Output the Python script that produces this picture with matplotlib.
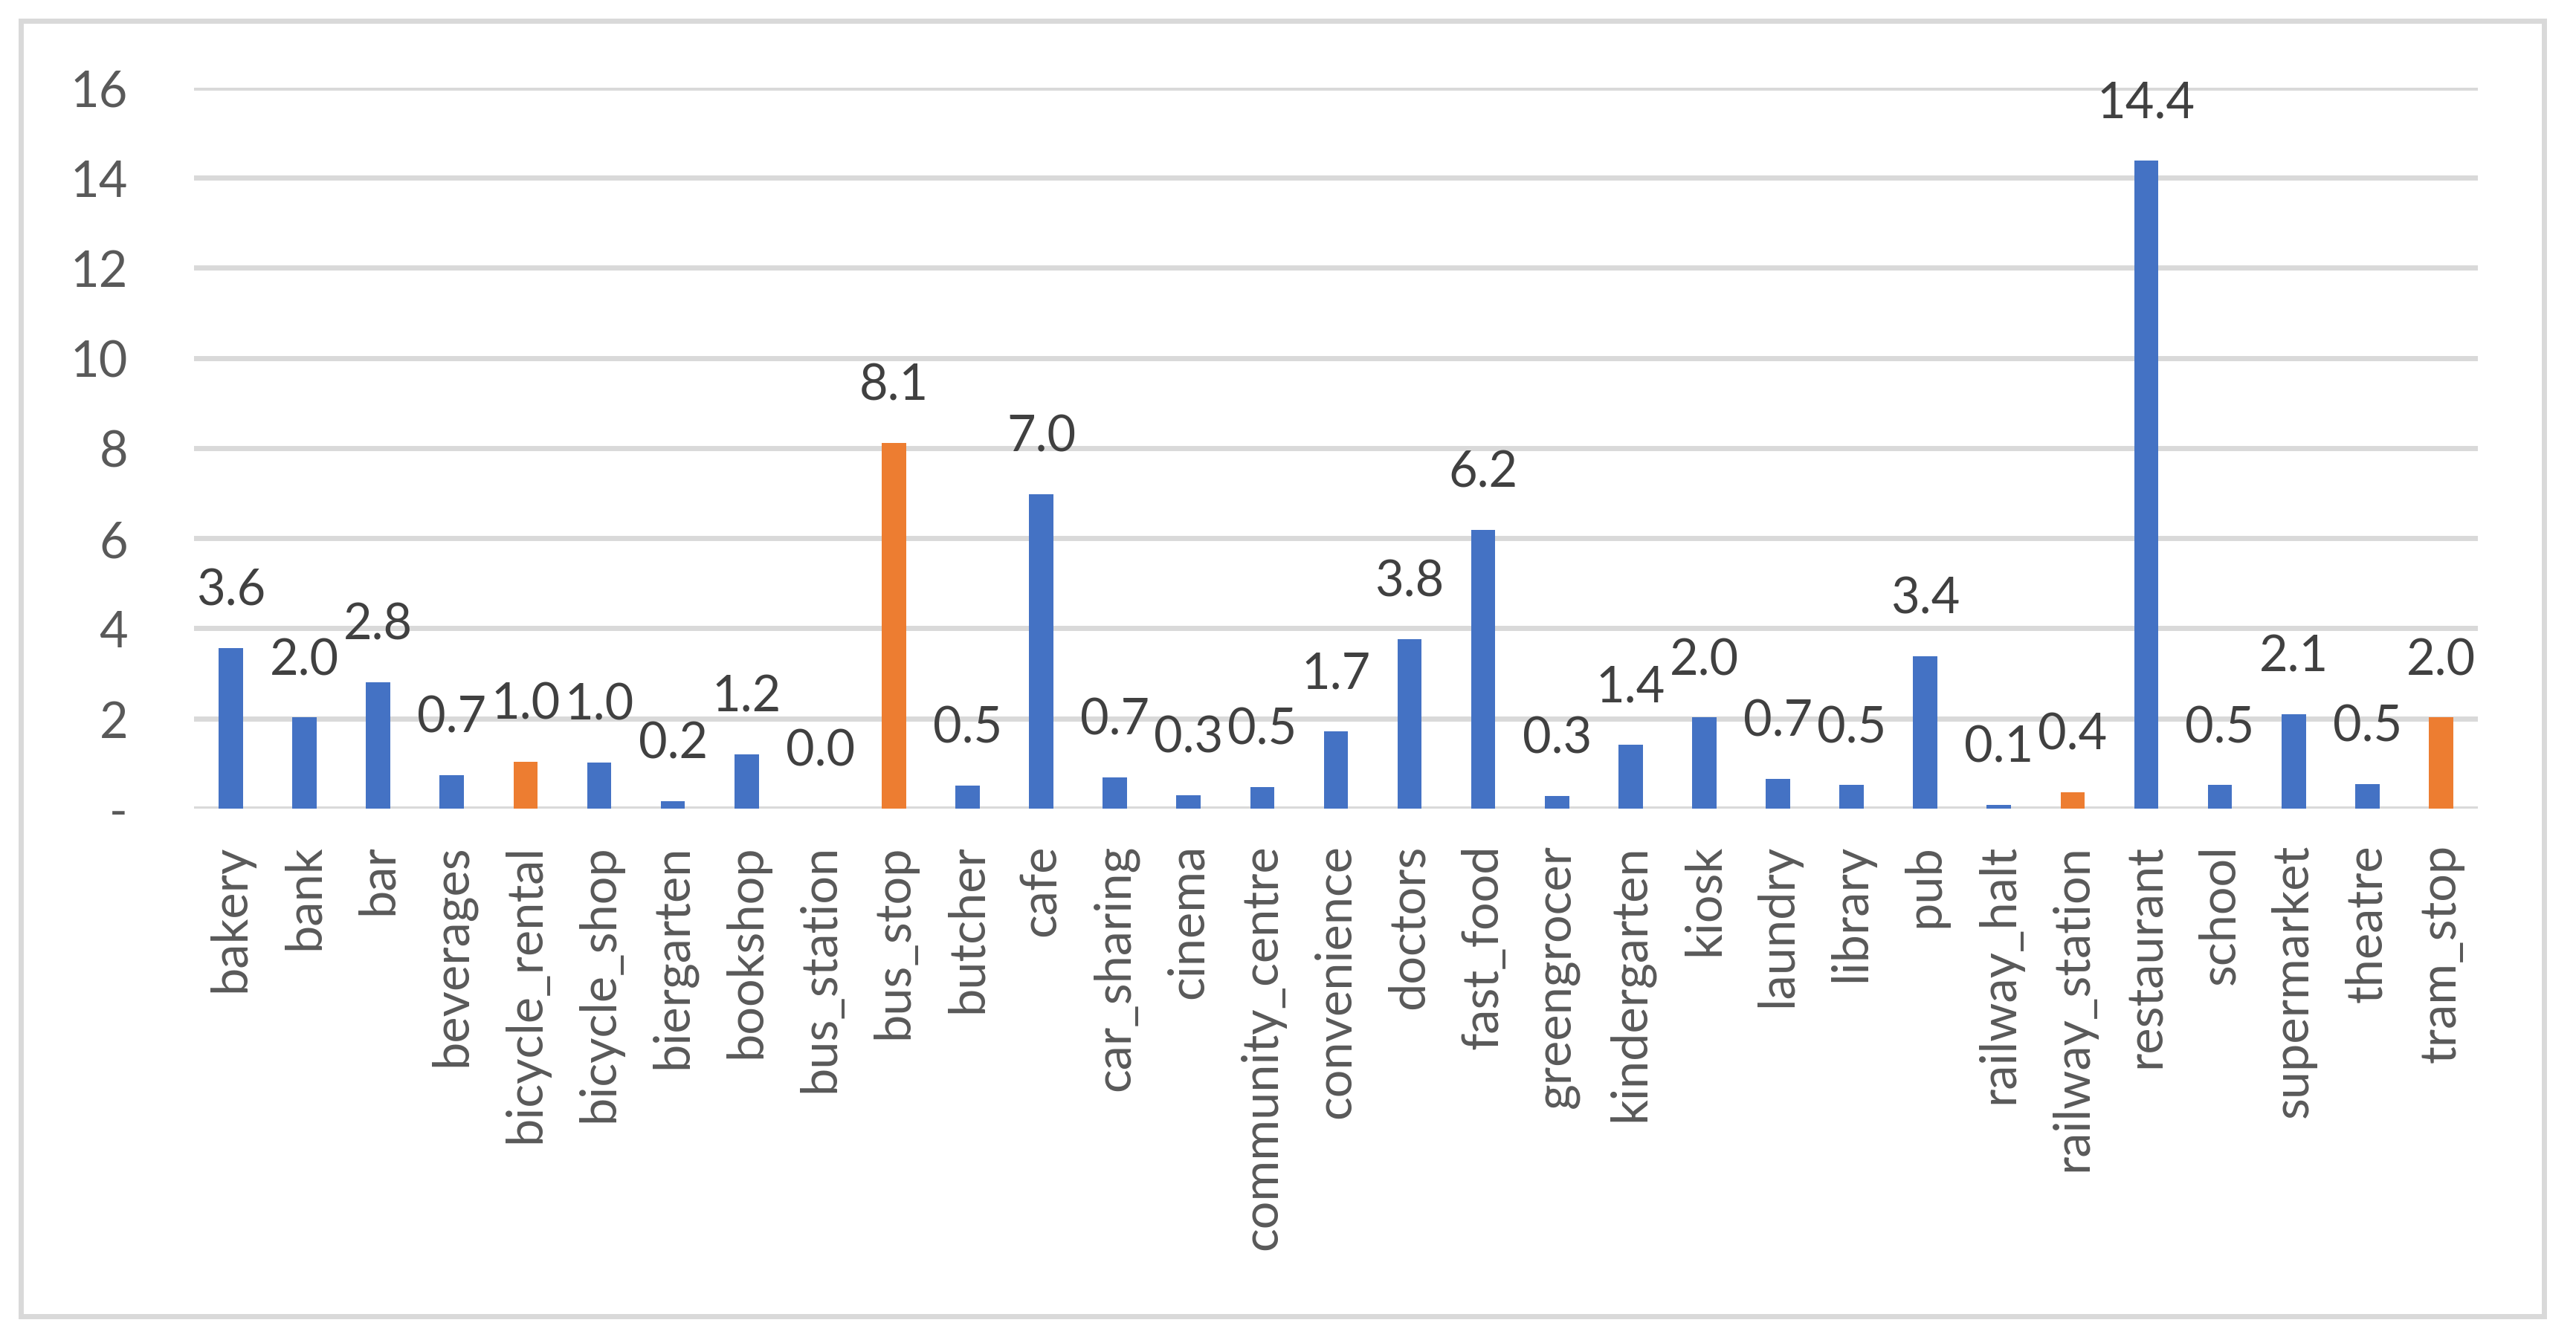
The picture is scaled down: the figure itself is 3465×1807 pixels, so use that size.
import numpy as np
import matplotlib
matplotlib.use("Agg")
import matplotlib.pyplot as plt
from matplotlib.patches import Rectangle

# DATA
categories = ["bakery", "bank", "bar", "beverages", "bicycle_rental", "bicycle_shop",
              "biergarten", "bookshop", "bus_station", "bus_stop", "butcher", "cafe",
              "car_sharing", "cinema", "community_centre", "convenience", "doctors",
              "fast_food", "greengrocer", "kindergarten", "kiosk", "laundry", "library",
              "pub", "railway_halt", "railway_station", "restaurant", "school",
              "supermarket", "theatre", "tram_stop"]
values = [3.56, 2.02, 2.81, 0.74, 1.04, 1.02, 0.16, 1.21, 0.0, 8.12, 0.51, 6.98,
          0.70, 0.30, 0.48, 1.72, 3.76, 6.18, 0.28, 1.42, 2.02, 0.66, 0.52, 3.38,
          0.08, 0.36, 14.38, 0.52, 2.10, 0.54, 2.02]
# transport related categories are highlighted
highlight = ["bicycle_rental", "bus_stop", "railway_station", "tram_stop"]
y_ticks = [0, 2, 4, 6, 8, 10, 12, 14, 16]
y_ticklabels = ["-", "2", "4", "6", "8", "10", "12", "14", "16"]

BLUE = "#4472C4"
ORANGE = "#ED7D31"
GRID = "#D9D9D9"

plt.rcParams["font.family"] = ["Lato", "DejaVu Sans"]

fig = plt.figure(figsize=(17.33, 9.04), dpi=200)
ax = fig.add_axes([0.0753, 0.3977, 0.9616 - 0.0753, 0.9342 - 0.3977])

x = np.arange(len(categories))
colors = [ORANGE if c in highlight else BLUE for c in categories]
ax.bar(x, values, width=0.33, color=colors, zorder=3)

# DATA LABELS
for xi, v in zip(x, values):
    ax.annotate(f"{v:.1f}", (xi, v), xytext=(0, 21), textcoords="offset points",
                ha="center", va="baseline", fontsize=24, color="#404040")

ax.set_xlim(-0.5, len(categories) - 0.5)
ax.set_ylim(0, 16)
ax.set_yticks(y_ticks)
ax.set_yticklabels(y_ticklabels)
ax.set_xticks(x)
ax.set_xticklabels(categories, rotation=90)
ax.tick_params(axis="y", length=0, pad=32, labelsize=24, labelcolor="#595959")
ax.tick_params(axis="x", length=0, pad=17, labelsize=24, labelcolor="#595959")
ax.yaxis.grid(True, color=GRID, linewidth=2.5, zorder=0)
ax.set_axisbelow(True)
for s in ax.spines.values():
    s.set_visible(False)

# OUTER CHART BORDER
fig.patches.append(Rectangle((0.0081, 0.0199), 0.9873 - 0.0081, 0.984 - 0.0199,
                             transform=fig.transFigure, fill=False,
                             edgecolor=GRID, linewidth=2.5))

fig.savefig("out.png", dpi=200, facecolor="white")
